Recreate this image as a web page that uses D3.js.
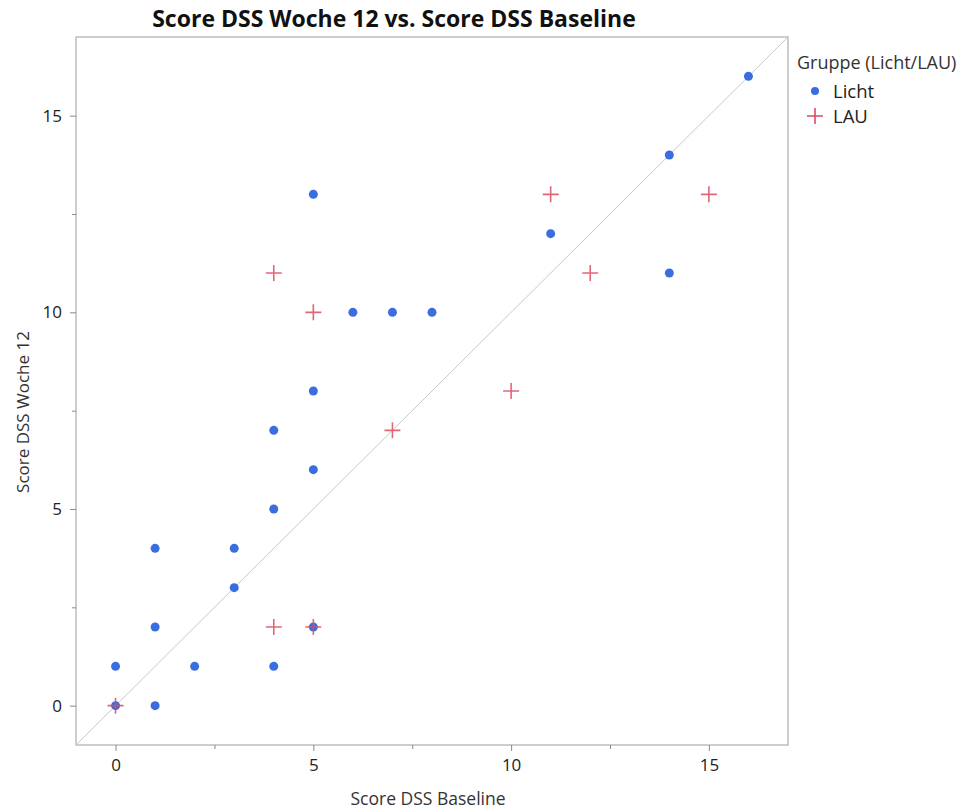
<!DOCTYPE html>
<html>
<head>
<meta charset="utf-8">
<script src="https://cdn.jsdelivr.net/npm/d3@7"></script>
<style>
  html, body { margin: 0; padding: 0; background: #fff; }
  svg text { font-family: "Open Sans", "Noto Sans", sans-serif; }
</style>
</head>
<body>
<svg id="chart" width="967" height="809"></svg>
<script>
// Licht group: baseline score vs. week-12 score
const lichtBaseline = [0, 0, 1, 1, 1, 2, 3, 3, 4, 4, 4, 5, 5, 5, 5, 6, 7, 8, 11, 14, 14, 16];
const lichtWoche12  = [1, 0, 4, 2, 0, 1, 4, 3, 7, 5, 1, 13, 8, 6, 2, 10, 10, 10, 12, 14, 11, 16];
// LAU group
const lauBaseline = [0, 4, 5, 4, 5, 7, 10, 11, 12, 15];
const lauWoche12  = [0, 11, 10, 2, 2, 7, 8, 13, 11, 13];

const xTicks = [0, 5, 10, 15];
const yTicks = [0, 5, 10, 15];
const minorTicks = [2.5, 7.5, 12.5];
const groups = ["Licht", "LAU"];

const blue = "#3a6ee0";
const red = "#dc4b5e";

const svg = d3.select("#chart");
const m = { left: 76, right: 788, top: 37, bottom: 745 };

const x = d3.scaleLinear().domain([-1, 17]).range([m.left, m.right]);
const y = d3.scaleLinear().domain([-1, 17]).range([m.bottom, m.top]);

// frame
svg.append("rect")
  .attr("x", m.left).attr("y", m.top)
  .attr("width", m.right - m.left).attr("height", m.bottom - m.top)
  .attr("fill", "none").attr("stroke", "#bdbdbd").attr("stroke-width", 1.5);

// x axis
const xAxis = svg.append("g").attr("transform", `translate(0,${m.bottom})`)
  .call(d3.axisBottom(x).tickValues(xTicks).tickSize(6).tickPadding(8).tickFormat(d3.format("d")));
const xMinor = svg.append("g").attr("transform", `translate(0,${m.bottom})`)
  .call(d3.axisBottom(x).tickValues(minorTicks).tickSize(4).tickFormat(""));
// y axis
const yAxis = svg.append("g").attr("transform", `translate(${m.left},0)`)
  .call(d3.axisLeft(y).tickValues(yTicks).tickSize(6).tickPadding(8).tickFormat(d3.format("d")));
const yMinor = svg.append("g").attr("transform", `translate(${m.left},0)`)
  .call(d3.axisLeft(y).tickValues(minorTicks).tickSize(4).tickFormat(""));

[xAxis, xMinor, yAxis, yMinor].forEach(g => {
  g.select(".domain").remove();
  g.selectAll(".tick line").attr("stroke", "#8a8a8a").attr("stroke-width", 1);
  g.selectAll(".tick text").attr("font-size", 17).attr("fill", "#222");
});

// identity line
svg.append("line")
  .attr("x1", x(-1)).attr("y1", y(-1))
  .attr("x2", x(17)).attr("y2", y(17))
  .attr("stroke", "#c8c8c8").attr("stroke-width", 1);

// Licht points
const lichtData = lichtBaseline.map((b, i) => ({ b, w: lichtWoche12[i] }));
svg.append("g").selectAll("circle").data(lichtData).join("circle")
  .attr("cx", d => x(d.b)).attr("cy", d => y(d.w))
  .attr("r", 4.5).attr("fill", blue);

// LAU points as plus signs
const lauData = lauBaseline.map((b, i) => ({ b, w: lauWoche12[i] }));
const plus = "M-8,0H8M0,-8V8";
svg.append("g").selectAll("path").data(lauData).join("path")
  .attr("transform", d => `translate(${x(d.b)},${y(d.w)})`)
  .attr("d", plus).attr("stroke", red).attr("stroke-width", 1.6)
  .attr("stroke-opacity", 0.85).attr("fill", "none");

// title
svg.append("text")
  .attr("x", 394).attr("y", 27).attr("text-anchor", "middle")
  .attr("font-size", 23).attr("font-weight", "bold").attr("fill", "#111")
  .text("Score DSS Woche 12 vs. Score DSS Baseline");

// axis titles
svg.append("text")
  .attr("x", 428).attr("y", 805).attr("text-anchor", "middle")
  .attr("font-size", 17.5).attr("fill", "#333")
  .text("Score DSS Baseline");
svg.append("text")
  .attr("transform", "translate(29,412) rotate(-90)").attr("text-anchor", "middle")
  .attr("font-size", 17).attr("fill", "#333")
  .text("Score DSS Woche 12");

// legend
const lg = svg.append("g");
lg.append("text").attr("x", 797).attr("y", 69)
  .attr("font-size", 18).attr("fill", "#333").text("Gruppe (Licht/LAU)");
groups.forEach((g, i) => {
  const cy = 91 + i * 25;
  if (g === "Licht") {
    lg.append("circle").attr("cx", 815).attr("cy", cy).attr("r", 4).attr("fill", blue);
  } else {
    lg.append("path").attr("transform", `translate(815,${cy})`).attr("d", plus)
      .attr("stroke", red).attr("stroke-width", 1.6).attr("fill", "none");
  }
  lg.append("text").attr("x", 833).attr("y", cy + 6.5)
    .attr("font-size", 18.5).attr("fill", "#222").text(g);
});
</script>
</body>
</html>
